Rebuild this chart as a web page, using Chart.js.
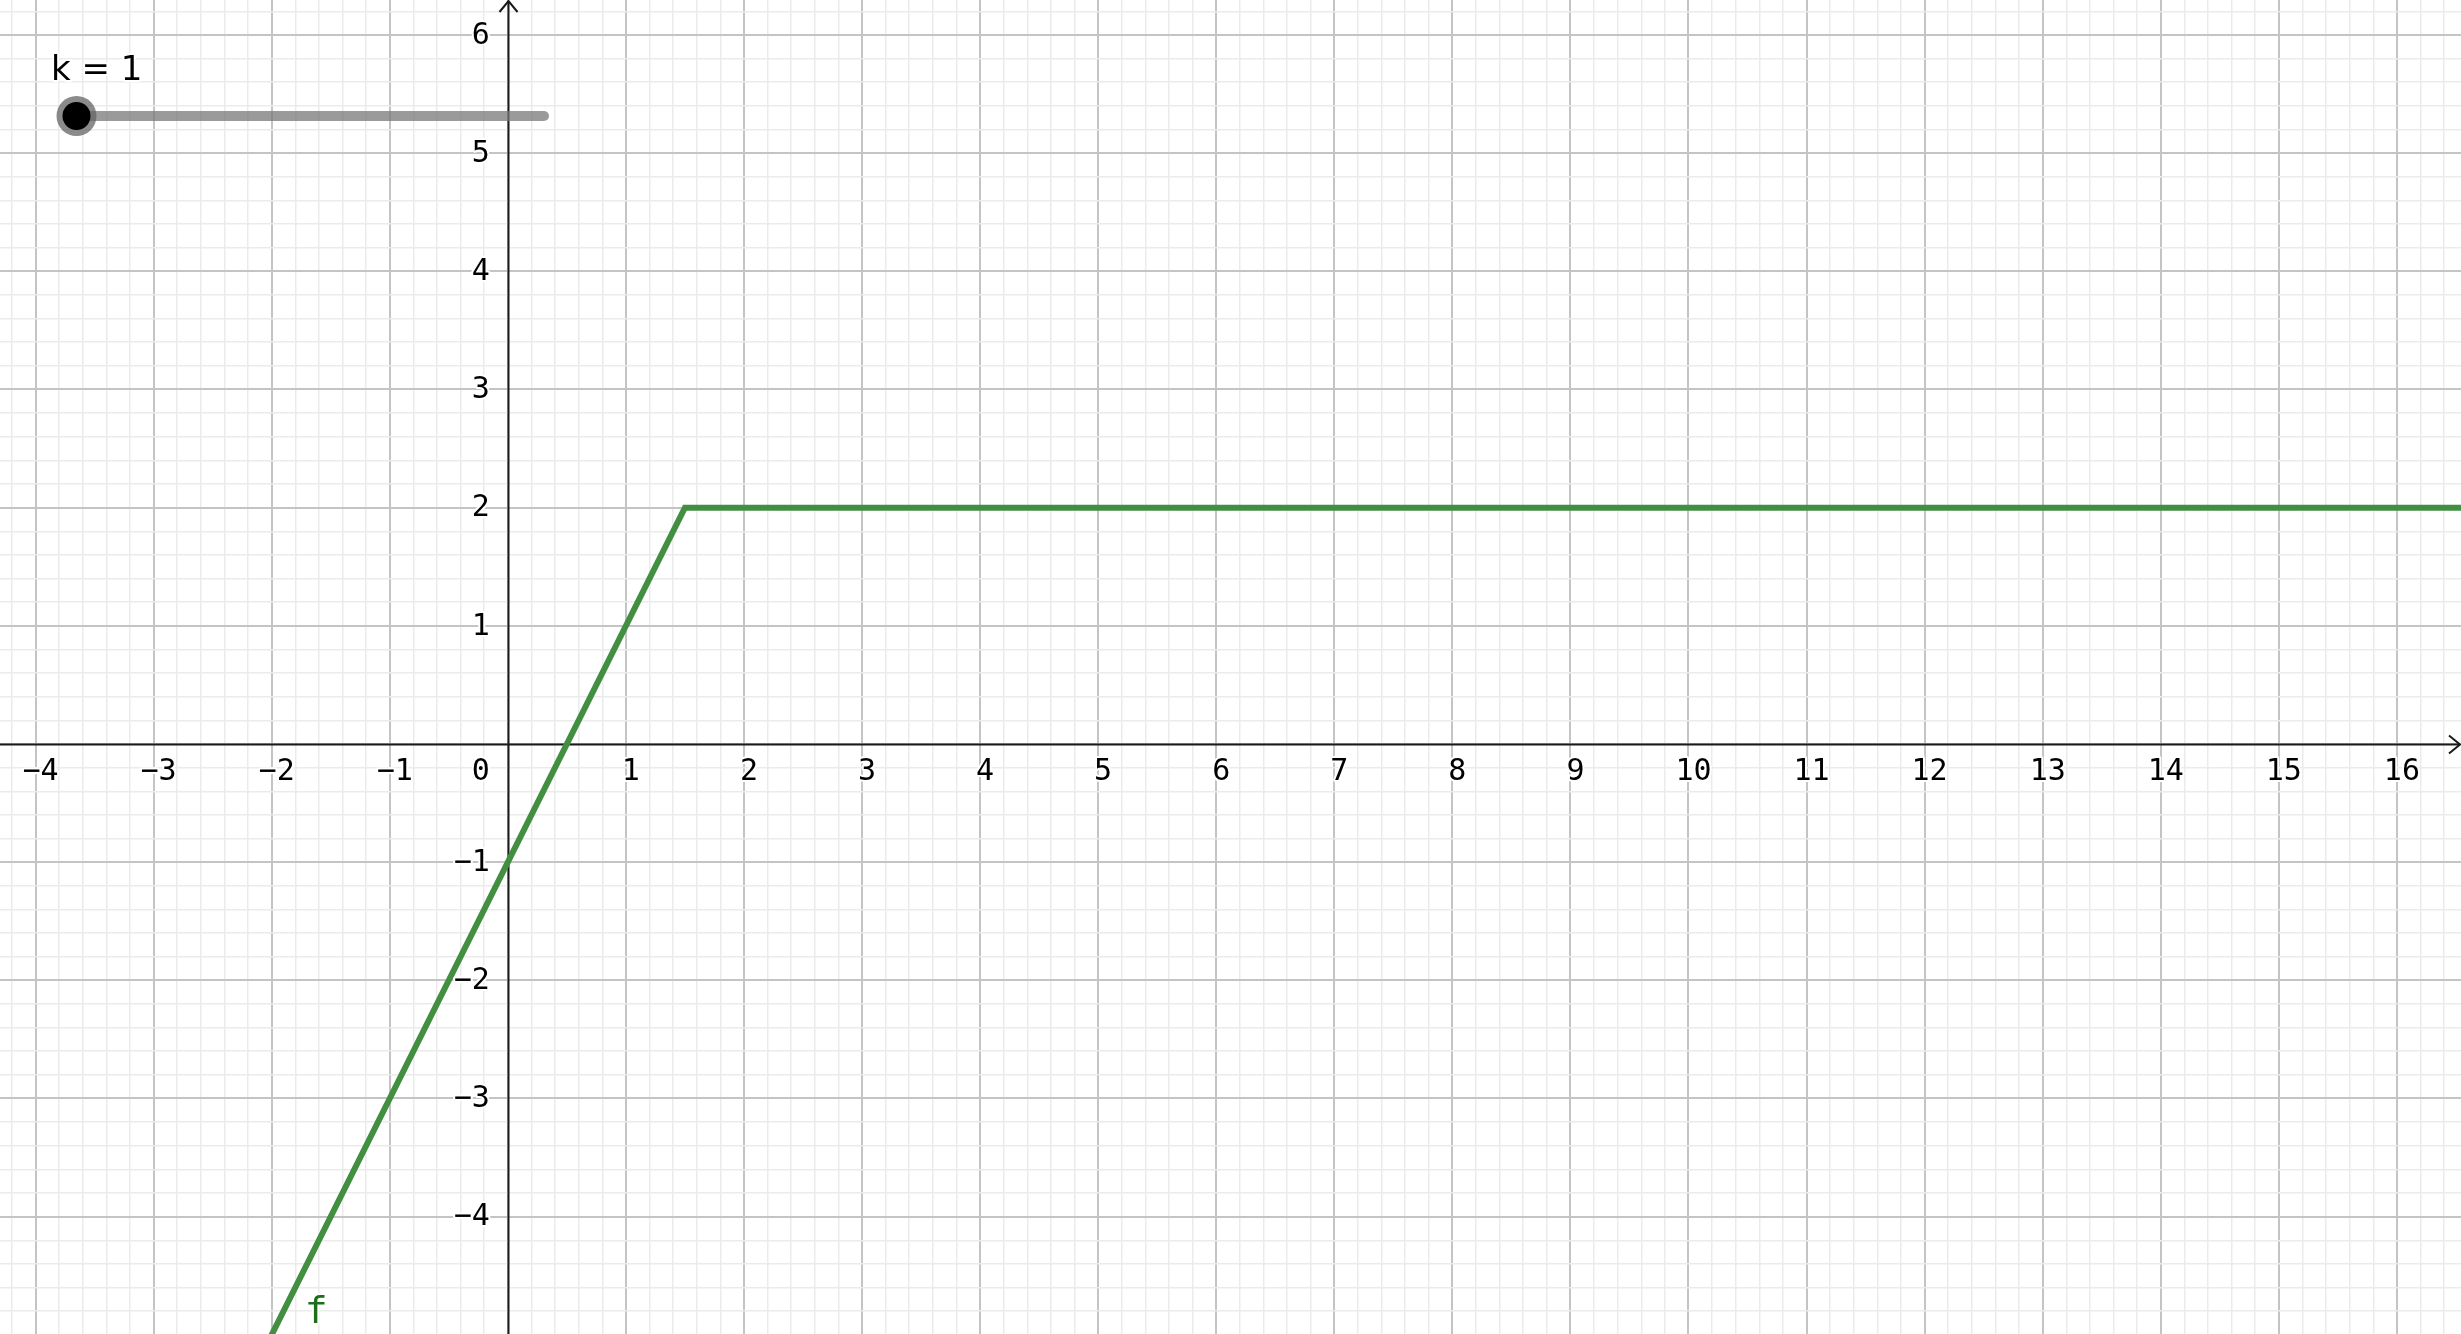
<!DOCTYPE html>
<html>
<head>
<meta charset="utf-8">
<script src="https://cdn.jsdelivr.net/npm/chart.js@4"></script>
<style>
html,body{margin:0;padding:0;background:#fff;overflow:hidden;}
canvas{display:block;}
</style>
</head>
<body>
<canvas id="c" width="2461" height="1334"></canvas>
<script>
// ---- data ----
const fX = [-2.5, 1.5, 17];       // breakpoints of f
const fY = [-6, 2, 2];
const xTickLabels = [-4,-3,-2,-1,1,2,3,4,5,6,7,8,9,10,11,12,13,14,15,16];
const yTickLabels = [-4,-3,-2,-1,1,2,3,4,5,6];
const xRange = [-4.301, 16.543];
const yRange = [-4.993, 6.296];
const fLabelPos = [-1.72, -4.90];
const sliderName = 'k';
const sliderValue = 1;

const MONO = '"DejaVu Sans Mono", monospace';
const SANS = '"DejaVu Sans", sans-serif';

function isMajor(v){ return Math.abs(v - Math.round(v)) < 1e-6; }
const gridOpts = {
  color: c => isMajor(c.tick.value) ? '#c4c4c4' : '#ebebeb',
  lineWidth: c => isMajor(c.tick.value) ? 2 : 1.5,
  drawTicks: false
};

function haloText(ctx, txt, x, y){
  ctx.lineWidth = 4;
  ctx.strokeStyle = '#ffffff';
  ctx.lineJoin = 'round';
  ctx.strokeText(txt, x, y);
  ctx.fillText(txt, x, y);
}

const overlay = {
  id: 'overlay',
  beforeDatasetsDraw(chart){
    const {ctx, chartArea:a, scales:{x, y}} = chart;
    const ox = Math.round(x.getPixelForValue(0)) + 0.5;
    const oy = Math.round(y.getPixelForValue(0)) + 0.5;
    ctx.save();
    ctx.strokeStyle = '#1a1a1a';
    ctx.lineWidth = 2;
    ctx.beginPath();
    ctx.moveTo(a.left, oy); ctx.lineTo(a.right - 1, oy);
    ctx.moveTo(ox, a.bottom); ctx.lineTo(ox, a.top + 1);
    ctx.stroke();
    // arrows
    ctx.beginPath();
    ctx.moveTo(a.right - 12, oy - 9); ctx.lineTo(a.right - 1, oy); ctx.lineTo(a.right - 12, oy + 9);
    ctx.moveTo(ox - 9, a.top + 12); ctx.lineTo(ox, a.top + 1); ctx.lineTo(ox + 9, a.top + 12);
    ctx.stroke();
    ctx.restore();
  },
  afterDatasetsDraw(chart){
    const {ctx, chartArea:a, scales:{x, y}} = chart;
    const ox = x.getPixelForValue(0);
    const oy = y.getPixelForValue(0);
    ctx.save();
    ctx.fillStyle = '#000';
    ctx.font = '30px ' + MONO;
    ctx.textBaseline = 'middle';
    ctx.textAlign = 'center';
    xTickLabels.forEach(v => {
      const t = v < 0 ? '\u2212' + Math.abs(v) : String(v);
      haloText(ctx, t, x.getPixelForValue(v) + 5, oy + 28);
    });
    haloText(ctx, '0', ox - 27, oy + 28);
    ctx.textAlign = 'right';
    yTickLabels.forEach(v => {
      const t = v < 0 ? '\u2212' + Math.abs(v) : String(v);
      haloText(ctx, t, ox - 18, y.getPixelForValue(v) + 1);
    });
    // function label
    ctx.fillStyle = '#1c6e1c';
    ctx.font = '38px ' + MONO;
    ctx.textAlign = 'left';
    ctx.textBaseline = 'alphabetic';
    haloText(ctx, 'f', x.getPixelForValue(fLabelPos[0]), y.getPixelForValue(fLabelPos[1]));
    // slider
    const sx0 = a.left + 76.5, sx1 = a.left + 544, sy = a.top + 116;
    ctx.strokeStyle = 'rgba(120,120,120,0.75)';
    ctx.lineWidth = 10;
    ctx.lineCap = 'round';
    ctx.beginPath(); ctx.moveTo(sx0, sy); ctx.lineTo(sx1, sy); ctx.stroke();
    ctx.fillStyle = 'rgba(100,100,100,0.75)';
    ctx.beginPath(); ctx.arc(sx0, sy, 20, 0, Math.PI*2); ctx.fill();
    ctx.fillStyle = '#000';
    ctx.beginPath(); ctx.arc(sx0, sy, 14, 0, Math.PI*2); ctx.fill();
    ctx.fillStyle = '#000';
    ctx.font = '34px ' + SANS;
    ctx.textAlign = 'left';
    ctx.textBaseline = 'alphabetic';
    haloText(ctx, sliderName + ' = ' + sliderValue, a.left + 51, a.top + 80);
    ctx.restore();
  }
};

new Chart(document.getElementById('c'), {
  type: 'scatter',
  data: {
    datasets: [{
      label: 'f',
      data: fX.map((v, i) => ({x: v, y: fY[i]})),
      showLine: true,
      borderColor: 'rgb(66,143,66)',
      borderWidth: 6,
      pointRadius: 0,
      pointHoverRadius: 0,
      tension: 0,
      fill: false
    }]
  },
  options: {
    responsive: false,
    animation: false,
    devicePixelRatio: 1,
    layout: {padding: 0},
    plugins: {legend: {display: false}, tooltip: {enabled: false}, title: {display: false}},
    events: [],
    scales: {
      x: {
        type: 'linear', min: xRange[0], max: xRange[1],
        ticks: {display: false, stepSize: 0.2, maxTicksLimit: 1000, includeBounds: false},
        grid: gridOpts, border: {display: false}
      },
      y: {
        type: 'linear', min: yRange[0], max: yRange[1],
        ticks: {display: false, stepSize: 0.2, maxTicksLimit: 1000, includeBounds: false},
        grid: gridOpts, border: {display: false}
      }
    }
  },
  plugins: [overlay]
});
</script>
</body>
</html>
